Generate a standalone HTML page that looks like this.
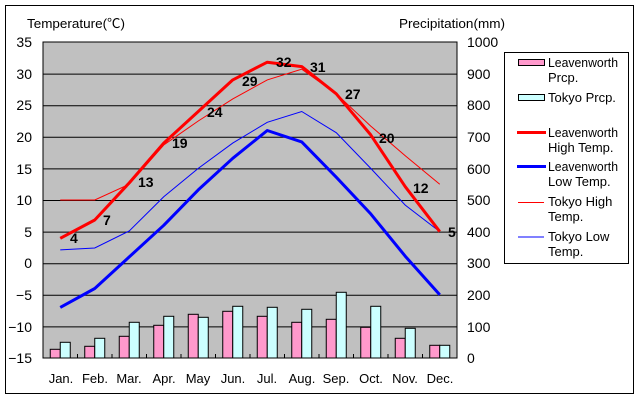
<!DOCTYPE html>
<html>
<head>
<meta charset="utf-8">
<style>
html,body{margin:0;padding:0;background:#fff;}
svg{display:block;}
text{font-family:"Liberation Sans","Noto Sans CJK JP",sans-serif;fill:#000;}
</style>
</head>
<body>
<svg width="640" height="400" viewBox="0 0 640 400" xmlns="http://www.w3.org/2000/svg">
<rect x="0" y="0" width="640" height="400" fill="#fff"/>
<rect x="5.5" y="5.5" width="628" height="388" fill="#fff" stroke="#000" stroke-width="1"/>

<!-- plot area -->
<rect x="43" y="42" width="414" height="316" fill="#c0c0c0"/>
<g stroke="#000" stroke-width="1">
<line x1="43" y1="74.1" x2="457" y2="74.1"/>
<line x1="43" y1="105.7" x2="457" y2="105.7"/>
<line x1="43" y1="137.3" x2="457" y2="137.3"/>
<line x1="43" y1="168.9" x2="457" y2="168.9"/>
<line x1="43" y1="200.5" x2="457" y2="200.5"/>
<line x1="43" y1="232.1" x2="457" y2="232.1"/>
<line x1="43" y1="263.7" x2="457" y2="263.7"/>
<line x1="43" y1="295.3" x2="457" y2="295.3"/>
<line x1="43" y1="326.9" x2="457" y2="326.9"/>
</g>

<!-- bars -->
<g stroke="#000" stroke-width="1">
<rect x="50.25" y="349.3" width="10" height="8.7" fill="#ff99cc"/>
<rect x="60.25" y="342.3" width="10" height="15.7" fill="#ccffff"/>
<rect x="84.75" y="346.3" width="10" height="11.7" fill="#ff99cc"/>
<rect x="94.75" y="338.3" width="10" height="19.7" fill="#ccffff"/>
<rect x="119.25" y="336.3" width="10" height="21.7" fill="#ff99cc"/>
<rect x="129.25" y="322.3" width="10" height="35.7" fill="#ccffff"/>
<rect x="153.75" y="325.3" width="10" height="32.7" fill="#ff99cc"/>
<rect x="163.75" y="316.3" width="10" height="41.7" fill="#ccffff"/>
<rect x="188.25" y="314.3" width="10" height="43.7" fill="#ff99cc"/>
<rect x="198.25" y="317.3" width="10" height="40.7" fill="#ccffff"/>
<rect x="222.75" y="311.3" width="10" height="46.7" fill="#ff99cc"/>
<rect x="232.75" y="306.3" width="10" height="51.7" fill="#ccffff"/>
<rect x="257.25" y="316.3" width="10" height="41.7" fill="#ff99cc"/>
<rect x="267.25" y="307.3" width="10" height="50.7" fill="#ccffff"/>
<rect x="291.75" y="322.3" width="10" height="35.7" fill="#ff99cc"/>
<rect x="301.75" y="309.3" width="10" height="48.7" fill="#ccffff"/>
<rect x="326.25" y="319.3" width="10" height="38.7" fill="#ff99cc"/>
<rect x="336.25" y="292.3" width="10" height="65.7" fill="#ccffff"/>
<rect x="360.75" y="327.3" width="10" height="30.7" fill="#ff99cc"/>
<rect x="370.75" y="306.3" width="10" height="51.7" fill="#ccffff"/>
<rect x="395.25" y="338.3" width="10" height="19.7" fill="#ff99cc"/>
<rect x="405.25" y="328.3" width="10" height="29.7" fill="#ccffff"/>
<rect x="429.75" y="345.3" width="10" height="12.7" fill="#ff99cc"/>
<rect x="439.75" y="345.3" width="10" height="12.7" fill="#ccffff"/>
</g>

<!-- plot border & ticks -->
<rect x="43" y="42" width="414" height="316" fill="none" stroke="#000" stroke-width="1"/>
<g stroke="#000" stroke-width="1">
<line x1="77.5" y1="358" x2="77.5" y2="354"/>
<line x1="112" y1="358" x2="112" y2="354"/>
<line x1="146.5" y1="358" x2="146.5" y2="354"/>
<line x1="181" y1="358" x2="181" y2="354"/>
<line x1="215.5" y1="358" x2="215.5" y2="354"/>
<line x1="250" y1="358" x2="250" y2="354"/>
<line x1="284.5" y1="358" x2="284.5" y2="354"/>
<line x1="319" y1="358" x2="319" y2="354"/>
<line x1="353.5" y1="358" x2="353.5" y2="354"/>
<line x1="388" y1="358" x2="388" y2="354"/>
<line x1="422.5" y1="358" x2="422.5" y2="354"/>
</g>

<!-- lines -->
<polyline fill="none" stroke="#ff0000" stroke-width="1" points="60.25,200 94.75,200 129.25,184.2 163.75,145 198.25,121 232.75,98.9 267.25,79.9 301.75,69.2 336.25,93.8 370.75,126.1 405.25,155.8 439.75,184.2"/>
<polyline fill="none" stroke="#0000ff" stroke-width="1" points="60.25,249.9 94.75,248 129.25,231 163.75,196.8 198.25,168.4 232.75,143.1 267.25,122.3 301.75,111.5 336.25,132.7 370.75,168.4 405.25,205.1 439.75,231.6"/>
<polyline fill="none" stroke="#0000ff" stroke-width="3" stroke-linejoin="round" points="60.25,307.4 94.75,288.5 129.25,256.9 163.75,225.3 198.25,189.9 232.75,158.3 267.25,130.5 301.75,141.9 336.25,177.2 370.75,213.9 405.25,256.2 439.75,294.8"/>
<polyline fill="none" stroke="#ff0000" stroke-width="3" stroke-linejoin="round" points="60.25,238.3 94.75,220 129.25,182.9 163.75,143.1 198.25,111.5 232.75,79.9 267.25,62.2 301.75,66.6 336.25,93.8 370.75,134.9 405.25,186.7 439.75,231.6"/>

<!-- data labels -->
<g font-size="14" font-weight="bold">
<text x="70" y="243">4</text>
<text x="103" y="225">7</text>
<text x="138" y="187">13</text>
<text x="172" y="148">19</text>
<text x="207" y="117">24</text>
<text x="242" y="86">29</text>
<text x="276" y="67">32</text>
<text x="310" y="72">31</text>
<text x="345" y="99">27</text>
<text x="379" y="143">20</text>
<text x="413" y="193">12</text>
<text x="448" y="237">5</text>
</g>

<!-- left axis labels -->
<g font-size="14" text-anchor="end">
<text x="32" y="47">35</text>
<text x="32" y="79">30</text>
<text x="32" y="110">25</text>
<text x="32" y="142">20</text>
<text x="32" y="174">15</text>
<text x="32" y="205">10</text>
<text x="32" y="237">5</text>
<text x="32" y="268">0</text>
<text x="32" y="300">−5</text>
<text x="32" y="332">−10</text>
<text x="32" y="363">−15</text>
</g>

<!-- right axis labels -->
<g font-size="14">
<text x="467" y="47">1000</text>
<text x="467" y="79">900</text>
<text x="467" y="110">800</text>
<text x="467" y="142">700</text>
<text x="467" y="174">600</text>
<text x="467" y="205">500</text>
<text x="467" y="237">400</text>
<text x="467" y="268">300</text>
<text x="467" y="300">200</text>
<text x="467" y="332">100</text>
<text x="467" y="363">0</text>
</g>

<!-- month labels -->
<g font-size="13" text-anchor="middle">
<text x="61" y="383">Jan.</text>
<text x="95" y="383">Feb.</text>
<text x="129" y="383">Mar.</text>
<text x="164" y="383">Apr.</text>
<text x="198" y="383">May</text>
<text x="233" y="383">Jun.</text>
<text x="267" y="383">Jul.</text>
<text x="302" y="383">Aug.</text>
<text x="336" y="383">Sep.</text>
<text x="371" y="383">Oct.</text>
<text x="405" y="383">Nov.</text>
<text x="440" y="383">Dec.</text>
</g>

<!-- titles -->
<text x="27" y="28" font-size="13" textLength="98" lengthAdjust="spacingAndGlyphs">Temperature(℃)</text>
<text x="399" y="28" font-size="13" textLength="106" lengthAdjust="spacingAndGlyphs">Precipitation(mm)</text>

<!-- legend -->
<rect x="504.5" y="52.5" width="124" height="211" fill="#fff" stroke="#000" stroke-width="1"/>
<rect x="518.5" y="59.5" width="26" height="6" fill="#ff99cc" stroke="#000" stroke-width="1"/>
<rect x="518.5" y="94.5" width="26" height="6" fill="#ccffff" stroke="#000" stroke-width="1"/>
<line x1="517" y1="132.5" x2="546" y2="132.5" stroke="#ff0000" stroke-width="3"/>
<line x1="517" y1="166.5" x2="546" y2="166.5" stroke="#0000ff" stroke-width="3"/>
<line x1="518" y1="202.5" x2="544" y2="202.5" stroke="#ff0000" stroke-width="1"/>
<line x1="518" y1="237" x2="544" y2="237" stroke="#0000ff" stroke-width="1"/>
<g font-size="13">
<text x="548" y="67" textLength="70" lengthAdjust="spacingAndGlyphs">Leavenworth</text>
<text x="548" y="82">Prcp.</text>
<text x="548" y="102">Tokyo Prcp.</text>
<text x="548" y="137" textLength="70" lengthAdjust="spacingAndGlyphs">Leavenworth</text>
<text x="548" y="152">High Temp.</text>
<text x="548" y="171" textLength="70" lengthAdjust="spacingAndGlyphs">Leavenworth</text>
<text x="548" y="186">Low Temp.</text>
<text x="548" y="206">Tokyo High</text>
<text x="548" y="221">Temp.</text>
<text x="548" y="241">Tokyo Low</text>
<text x="548" y="256">Temp.</text>
</g>
</svg>
</body>
</html>
